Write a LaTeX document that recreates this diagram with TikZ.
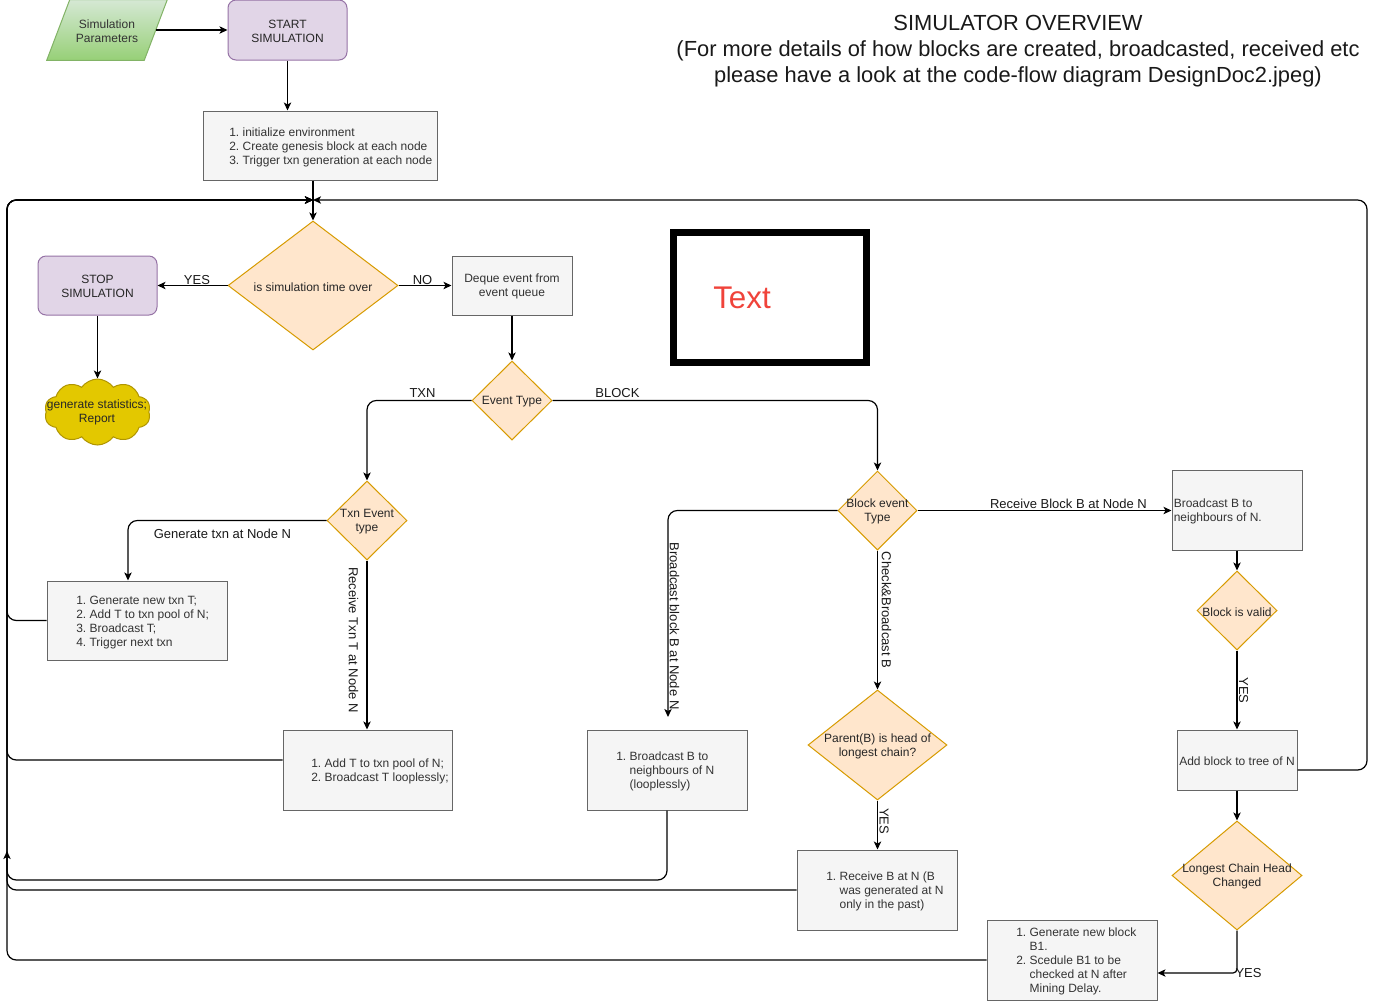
\documentclass[tikz,border=0pt]{standalone}
\usepackage{fontspec}
\setmainfont{Liberation Sans}
\usetikzlibrary{shapes.geometric,shapes.symbols,arrows.meta,calc}

\definecolor{boxfill}{HTML}{F5F5F5}
\definecolor{boxline}{HTML}{666666}
\definecolor{boxtext}{HTML}{333333}
\definecolor{decfill}{HTML}{FFE6CC}
\definecolor{decline}{HTML}{D79B00}
\definecolor{termfill}{HTML}{E1D5E7}
\definecolor{termline}{HTML}{9673A6}
\definecolor{inputtop}{HTML}{D5E8D4}
\definecolor{inputbot}{HTML}{97D077}
\definecolor{inputline}{HTML}{82B366}
\definecolor{cloudfill}{HTML}{E3C800}
\definecolor{cloudline}{HTML}{B09500}
\definecolor{notered}{HTML}{F0433A}

\newcommand{\stepitems}[1]{\begin{tabular}{@{}r@{\ }l@{}}#1\end{tabular}}

\tikzset{
  base/.style={inner sep=0pt, font=\fontsize{9}{10.5}\selectfont},
  procbox/.style={base, rectangle, draw=boxline, fill=boxfill, line width=0.75pt},
  termbox/.style={base, rectangle, rounded corners=6pt, draw=termline, fill=termfill, line width=0.75pt},
  decision/.style={base, diamond, draw=decline, fill=decfill, line width=0.75pt},
  boxtxt/.style={base, text=boxtext, align=left, yshift=-1.3pt},
  ctrtxt/.style={base, text=black!85, align=center, yshift=-1pt},
  edgelbl/.style={inner sep=0pt, font=\fontsize{9.75}{11}\selectfont, text=black!90},
  flow/.style={line width=0.9pt, -{Stealth[length=6pt,width=5.5pt,inset=1.5pt]}},
  loop/.style={flow, rounded corners=7pt},
}

\begin{document}
\begin{tikzpicture}[x=0.75pt, y=-0.75pt]
  \fill[white] (0,0) rectangle (1379,1001);
  \useasboundingbox (0,0) rectangle (1379,1001);

  % heading
  \node[align=center, inner sep=0pt, font=\fontsize{16.4}{19.5}\selectfont, text=black!90]
    (title) at (1018,51) {SIMULATOR OVERVIEW\\(For more details of how blocks are created, broadcasted, received etc\\please have a look at the code-flow diagram DesignDoc2.jpeg)};

  % legend frame
  \node[rectangle, draw=black, line width=5.25pt, minimum width=193*0.75pt, minimum height=130*0.75pt, inner sep=0pt]
    (legend) at (770,297.5) {};
  \node[anchor=west, inner sep=0pt, text=notered, font=\fontsize{23.5}{26}\selectfont]
    (legendtxt) at (713,298) {Text};

  % start / stop
  \node[minimum width=97*0.75pt, minimum height=60*0.75pt, inner sep=0pt] (params) at (107,30) {};
  \shade[top color=inputtop, bottom color=inputbot, draw=inputline, line width=0.75pt]
    ($(params.north west)+(11.5,0)$) -- ($(params.north east)+(11.5,0)$)
    -- ($(params.south east)+(-11.5,0)$) -- ($(params.south west)+(-11.5,0)$) -- cycle;
  \node[ctrtxt, text=black!80] (paramstxt) at (params) {Simulation\\Parameters};

  \node[termbox, minimum width=119*0.75pt, minimum height=60*0.75pt] (start) at (287.5,30) {};
  \node[ctrtxt] (starttxt) at (start) {START\\SIMULATION};
  \node[procbox, minimum width=234*0.75pt, minimum height=69*0.75pt] (init) at (320,145.5) {};
  \node[boxtxt, anchor=west] (inittxt) at (229,145.5)
    {\stepitems{1. & initialize environment\\ 2. & Create genesis block at each node\\ 3. & Trigger txn generation at each node}};

  \node[decision, minimum width=170*0.75pt, minimum height=129*0.75pt] (simover) at (313,285.5) {};
  \node[ctrtxt] (simovertxt) at (simover) {is simulation time over};

  \node[termbox, minimum width=119*0.75pt, minimum height=59*0.75pt] (stop) at (97.5,285.5) {};
  \node[ctrtxt] (stoptxt) at (stop) {STOP\\SIMULATION};
  \node[cloud, cloud puffs=10, cloud puff arc=110, aspect=1.6, draw=cloudline, fill=cloudfill,
        line width=0.75pt, minimum width=106*0.75pt, minimum height=66*0.75pt, inner sep=0pt]
    (report) at (97.5,412) {};
  \node[ctrtxt] (reporttxt) at (97,411) {generate statistics;\\Report};

  \node[procbox, minimum width=120*0.75pt, minimum height=59*0.75pt] (deque) at (512,285.5) {};
  \node[ctrtxt, text=boxtext] (dequetxt) at (deque) {Deque event from\\event queue};

  % event dispatch
  \node[decision, minimum width=80*0.75pt, minimum height=79*0.75pt] (evtype) at (512,400.5) {};
  \node[ctrtxt] (evtypetxt) at (evtype) {Event Type};
  \node[decision, minimum width=80*0.75pt, minimum height=79*0.75pt] (txntype) at (367,520.5) {};
  \node[ctrtxt] (txntypetxt) at (txntype) {Txn Event\\type};
  \node[decision, minimum width=79*0.75pt, minimum height=79*0.75pt] (blktype) at (877.5,510.5) {};
  \node[ctrtxt] (blktypetxt) at (blktype) {Block event\\Type};

  % transaction branch
  \node[procbox, minimum width=180*0.75pt, minimum height=79*0.75pt] (gentxn) at (137,620.5) {};
  \node[boxtxt, anchor=west] (gentxntxt) at (76,620.5)
    {\stepitems{1. & Generate new txn T;\\ 2. & Add T to txn pool of N;\\ 3. & Broadcast T;\\ 4. & Trigger next txn}};
  \node[procbox, minimum width=169*0.75pt, minimum height=80*0.75pt] (addT) at (367.5,770) {};
  \node[boxtxt, anchor=west] (addTtxt) at (311,770)
    {\stepitems{1. & Add T to txn pool of N;\\ 2. & Broadcast T looplessly;}};

  % block branch
  \node[procbox, minimum width=160*0.75pt, minimum height=80*0.75pt] (bcastB) at (667,770) {};
  \node[boxtxt, anchor=west] (bcastBtxt) at (616,770)
    {\stepitems{1. & Broadcast B to\\ & neighbours of N\\ & (looplessly)}};
  \node[decision, minimum width=139*0.75pt, minimum height=110*0.75pt] (parent) at (877.5,745) {};
  \node[ctrtxt] (parenttxt) at (parent) {Parent(B) is head of\\longest chain?};
  \node[procbox, minimum width=160*0.75pt, minimum height=80*0.75pt] (recvB) at (877,890) {};
  \node[boxtxt, anchor=west] (recvBtxt) at (826,890)
    {\stepitems{1. & Receive B at N (B\\ & was generated at N\\ & only in the past)}};

  \node[procbox, minimum width=130*0.75pt, minimum height=80*0.75pt] (bcastN) at (1237,510) {};
  \node[boxtxt, anchor=west] (bcastNtxt) at (1173.5,510) {Broadcast B to\\neighbours of N.};
  \node[decision, minimum width=80*0.75pt, minimum height=79*0.75pt] (valid) at (1237,610.5) {};
  \node[ctrtxt] (validtxt) at (valid) {Block is valid};
  \node[procbox, minimum width=120*0.75pt, minimum height=60*0.75pt] (addblk) at (1237,760) {};
  \node[ctrtxt, text=boxtext] (addblktxt) at (addblk) {Add block to tree of N};
  \node[decision, minimum width=130*0.75pt, minimum height=109*0.75pt] (lchead) at (1237,875.5) {};
  \node[ctrtxt] (lcheadtxt) at (lchead) {Longest Chain Head\\Changed};
  \node[procbox, minimum width=170*0.75pt, minimum height=80*0.75pt] (genblk) at (1072,960) {};
  \node[boxtxt, anchor=west] (genblktxt) at (1016,960)
    {\stepitems{1. & Generate new block\\ & B1.\\ 2. & Scedule B1 to be\\ & checked at N after\\ & Mining Delay.}};

  % junction where every handled event returns to the time check
  \coordinate (merge) at (313,200);
  \coordinate (trunk) at (7,200);
  \coordinate (loopturn) at (1367,200);
  \coordinate (bcastend) at (668,717);
  \coordinate (trunkarrow) at (7,851);

  % main flow
  \draw[flow] (params.east) -- (start.west);
  \draw[flow] (start.south) -- (start.south |- init.north);
  \draw[flow] (simover.north |- init.south) -- (simover.north);
  \draw[flow] (simover.west) -- (stop.east);
  \draw[flow] (simover.east) -- (deque.west);
  \draw[flow] (stop.south) -- (report.north);
  \draw[flow] (deque.south) -- (evtype.north);
  \draw[flow, rounded corners=7pt] (evtype.west) -| (txntype.north);
  \draw[flow, rounded corners=7pt] (evtype.east) -| (blktype.north);

  \draw[flow, rounded corners=7pt] (txntype.west) -| ($(gentxn.north)+(-9,0)$);
  \draw[flow] (txntype.south) -- (txntype.south |- addT.north);

  \draw[flow, rounded corners=7pt] (blktype.west) -| (bcastend);
  \draw[flow] (blktype.south) -- (parent.north);
  \draw[flow] (blktype.east) -- (blktype.east -| bcastN.west);
  \draw[flow] (parent.south) -- (parent.south |- recvB.north);

  \draw[flow] (bcastN.south) -- (valid.north);
  \draw[flow] (valid.south) -- (addblk.north);
  \draw[flow] (addblk.south) -- (lchead.north);
  \draw[flow, rounded corners=3pt] (lchead.south) |- ($(genblk.east)+(0,13)$);

  % return paths
  \draw[loop] (gentxn.west) -| (trunk) -- (merge);
  \draw[loop] ($(addT.west)+(0,-10)$) -| (trunk) -- (merge);
  \draw[loop] (bcastB.south) |- (7,880) -- (trunk) -- (merge);
  \draw[loop] (recvB.west) -| (trunk) -- (merge);
  \draw[loop] (genblk.west) -| (trunkarrow);
  \draw[loop] ($(addblk.east)+(0,10)$) -| (loopturn) -- (merge);

  % branch labels
  \node[edgelbl] (lblyes1) at (197,280) {YES};
  \node[edgelbl] (lblno) at (422.5,280) {NO};
  \node[edgelbl] (lbltxn) at (422.5,393) {TXN};
  \node[edgelbl] (lblblock) at (617.5,393) {BLOCK};
  \node[edgelbl] (lblgentxn) at (222.5,533.5) {Generate txn at Node N};
  \node[edgelbl, rotate=-90] (lblrecvtxn) at (353.5,640) {Receive Txn T at Node N};
  \node[edgelbl, rotate=-90] (lblbcast) at (674.5,626) {Broadcast block B at Node N};
  \node[edgelbl, rotate=-90] (lblcheck) at (886.5,610) {Check\&Broadcast B};
  \node[edgelbl] (lblrecvblk) at (1068.5,503.5) {Receive Block B at Node N};
  \node[edgelbl, rotate=-90] (lblyes2) at (884,821) {YES};
  \node[edgelbl, rotate=-90] (lblyes3) at (1243.5,690.5) {YES};
  \node[edgelbl] (lblyes4) at (1248.5,973) {YES};
\end{tikzpicture}
\end{document}
